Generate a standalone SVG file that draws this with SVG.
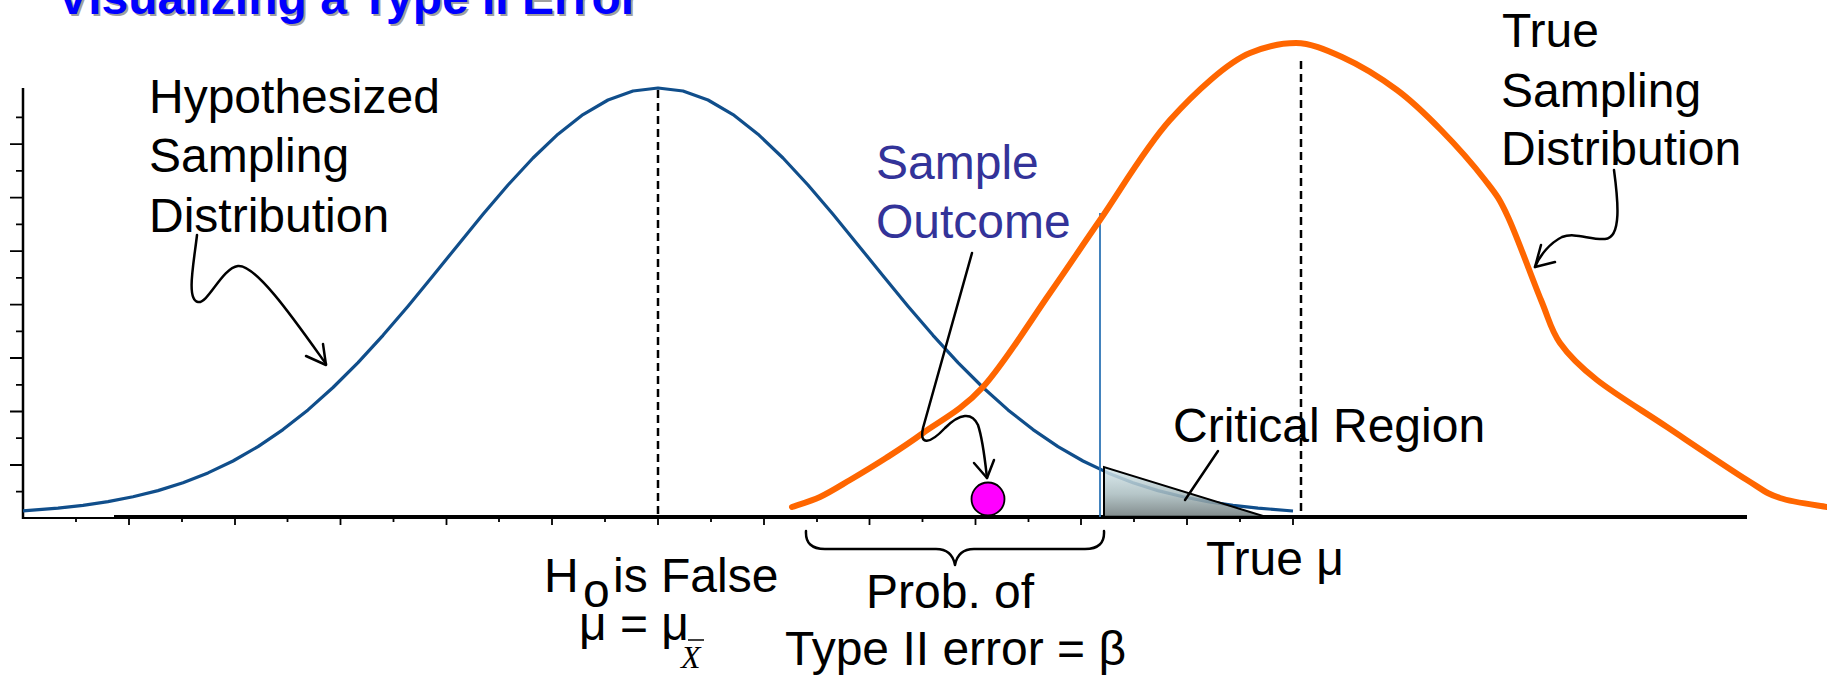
<svg xmlns="http://www.w3.org/2000/svg" width="1827" height="677" viewBox="0 0 1827 677">
<defs>
<style>
.lbl{font-family:"Liberation Sans",Arial,sans-serif;font-size:48px;fill:#000}
.so{fill:#333399}
.ax{stroke:#000;fill:none}
.dash{stroke:#000;stroke-width:2.5;stroke-dasharray:8 5;fill:none}
.lead{stroke:#000;stroke-width:2.5;fill:none;stroke-linecap:round;stroke-linejoin:round}
</style>
<linearGradient id="crit" x1="0" y1="0" x2="0" y2="1">
<stop offset="0" stop-color="#d8eaee"/>
<stop offset="0.55" stop-color="#a9bcbf"/>
<stop offset="1" stop-color="#6e7a7b"/>
</linearGradient>
</defs>
<rect width="1827" height="677" fill="#fff"/>

<g id="title">
<text x="59" y="16" font-family="Liberation Sans,Arial,sans-serif" font-weight="bold" font-size="48" fill="#a0a0a0">Visualizing a Type II Error</text>
<text x="57" y="14" font-family="Liberation Sans,Arial,sans-serif" font-weight="bold" font-size="48" fill="#0000ff">Visualizing a Type II Error</text>
</g>

<g id="axes">
<line class="ax" x1="23" y1="88" x2="23" y2="519" stroke-width="2.5"/>
<line class="ax" x1="22" y1="518" x2="1294" y2="518" stroke-width="2"/>
<line class="ax" x1="114" y1="517" x2="1747" y2="517" stroke-width="4"/>
<path class="ax" stroke-width="1.8" d="M16,491.7H23 M10,465H23 M16,438.2H23 M10,411.5H23 M16,384.8H23 M10,358H23 M16,331.3H23 M10,304.6H23 M16,277.8H23 M10,251.1H23 M16,224.4H23 M10,197.6H23 M16,170.9H23 M10,144.2H23 M16,117.4H23"/>
<path class="ax" stroke-width="1.8" d="M76,518V522 M129,518V525 M182,518V522 M235,518V525 M287.5,518V522 M340.5,518V525 M393.5,518V522 M446.5,518V525 M499,518V522 M552,518V525 M605,518V522 M658,518V525 M711,518V522 M764,518V525 M817,518V522 M869.5,518V525 M922.5,518V522 M975.5,518V525 M1028.5,518V522 M1081,518V525 M1134,518V522 M1187,518V525 M1240,518V522 M1293,518V525"/>
</g>

<g id="hypothesized-curve">
<polyline fill="none" stroke="#104e8b" stroke-width="3.2" stroke-linejoin="round" points="23,510.8 58,508.1 83,505.3 108,501.6 133,496.8 158,490.6 183,482.7 208,472.9 233,461 258,446.6 283,429.6 308,409.9 333,387.5 358,362.6 383,335.3 408,306.2 433,275.8 458,244.9 483,214.3 508,185 533,158 558,134.2 583,114.6 608,100 633,91 658,88 683,91 708,100 733,114.6 758,134.2 783,158 808,185 833,214.3 858,244.9 883,275.8 908,306.2 933,335.3 958,362.6 983,387.5 1008,409.9 1033,429.6 1058,446.6 1083,461 1108,472.9 1133,482.7 1158,490.6 1183,496.8 1208,501.6 1233,505.3 1258,508.1 1293,511"/>
<line class="dash" x1="658" y1="90" x2="658" y2="516"/>
</g>

<g id="critical-region">
<line x1="1100" y1="213" x2="1100" y2="517" stroke="#2e75b6" stroke-width="1.8"/>
<polygon points="1104,467 1263,516 1104,516" fill="url(#crit)" fill-opacity="0.85"/>
<polyline points="1104,516 1104,467 1263,516" fill="none" stroke="#000" stroke-width="2"/>
</g>

<g id="true-curve">
<path fill="none" stroke="#ff6600" stroke-width="6" stroke-linecap="round" d="M792,507 C796.7,505.3 810.3,501.5 820,497 C829.7,492.5 839,486.5 850,480 C861,473.5 873.8,465.8 886,458 C898.2,450.2 906.8,444.8 923,433 C939.2,421.2 961.8,410.3 983,387 C1004.2,363.7 1030.5,320.8 1050,293 C1069.5,265.2 1080,248.8 1100,220 C1120,191.2 1145,147.8 1170,120 C1195,92.2 1228,62 1250,53 C1266,46.5 1282,43 1296,43 C1310,43 1325,49.2 1342,57 C1359.2,64.8 1380.5,77.8 1397,90 C1413.5,102.2 1426.3,115 1441,130 C1455.7,145 1473.8,165.5 1485,180 C1496.2,194.5 1498.7,197 1508,217 C1517.3,237 1532.3,279 1541,300 C1549.7,321 1550.7,329.7 1560,343 C1569.3,356.3 1579.2,366 1597,380 C1614.8,394 1642,410.3 1667,427 C1692,443.7 1728.2,468.2 1747,480 C1765.8,491.8 1766.7,493.5 1780,498 C1793.3,502.5 1819.2,505.5 1827,507"/>
<line class="dash" x1="1301" y1="61" x2="1301" y2="516"/>
</g>

<g id="sample-point">
<circle cx="988" cy="499" r="16.5" fill="#ff00ff" stroke="#000" stroke-width="1.8"/>
</g>

<g id="connectors">
<path class="lead" d="M197,235 C194,262 186,300 198,302 C208,304 222,268 238,266 C256,264 296,322 326,364"/>
<path class="lead" d="M306,356 L326,365 L323,344"/>
<path class="lead" d="M972,253 L923,428 C919,446 930,444 945,428 C960,413 972,412 978,425 C983,440 985,460 987,478"/>
<path class="lead" d="M974,463 L987,478 L994,460"/>
<path class="lead" d="M1614,170 C1618,200 1622,238 1605,239 C1590,240 1575,232 1562,237 C1550,243 1540,255 1535,267"/>
<path class="lead" d="M1555,262 L1535,267 L1541,245"/>
<line class="lead" x1="1218" y1="451" x2="1185" y2="500" stroke-width="2"/>
<path class="lead" stroke-width="2" d="M806,531 Q805,549 825,549 L936,549 Q952,549 955,565 Q958,549 974,549 L1085,549 Q1105,549 1104,531"/>
</g>

<g id="label-hypothesized">
<text class="lbl" x="149" y="113">Hypothesized</text>
<text class="lbl" x="149" y="172">Sampling</text>
<text class="lbl" x="149" y="232">Distribution</text>
</g>

<g id="label-sample-outcome">
<text class="lbl so" x="876" y="179">Sample</text>
<text class="lbl so" x="876" y="238">Outcome</text>
</g>

<g id="label-true-dist">
<text class="lbl" x="1502" y="47">True</text>
<text class="lbl" x="1501" y="107">Sampling</text>
<text class="lbl" x="1501" y="165">Distribution</text>
</g>

<g id="label-critical">
<text class="lbl" x="1173" y="442">Critical Region</text>
</g>

<g id="label-true-mu">
<text class="lbl" x="1206" y="575">True μ</text>
</g>

<g id="label-h0">
<text class="lbl" x="544" y="592">H</text>
<text class="lbl" x="583" y="607" font-size="23">o</text>
<text class="lbl" x="613" y="592">is False</text>
<text class="lbl" x="579" y="640">μ = μ</text>
<text x="681" y="668" font-family="Liberation Serif,Times New Roman,serif" font-style="italic" font-size="32" fill="#000">X</text>
<line x1="688" y1="640" x2="704" y2="640" stroke="#000" stroke-width="1.5"/>
</g>

<g id="label-beta">
<text class="lbl" x="866" y="608">Prob. of</text>
<text class="lbl" x="785" y="665">Type II error = β</text>
</g>
</svg>
